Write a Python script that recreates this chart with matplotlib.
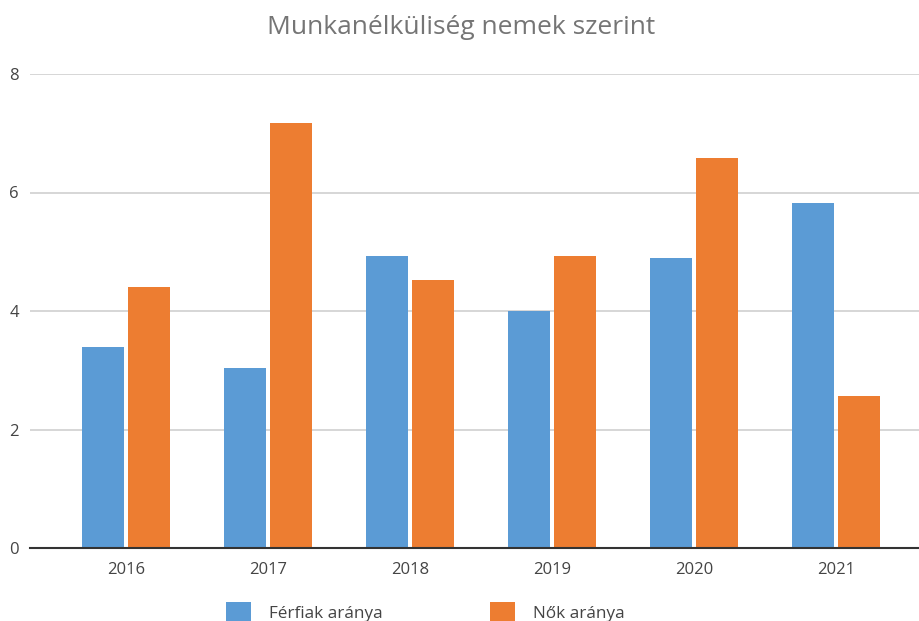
import matplotlib.pyplot as plt
import numpy as np

years = ["2016", "2017", "2018", "2019", "2020", "2021"]
ferfiak = [3.4, 3.03, 4.93, 4.0, 4.9, 5.82]
nok = [4.4, 7.17, 4.53, 4.93, 6.58, 2.57]
series_labels = ["Férfiak aránya", "Nők aránya"]
title = "Munkanélküliség nemek szerint"

plt.rcParams['font.family'] = ['Open Sans', 'DejaVu Sans']

blue = '#5b9bd5'
orange = '#ed7d31'

fig = plt.figure(figsize=(9.2, 6.21), dpi=100)
ax = fig.add_axes([30 / 920, 1 - 548 / 621, 1 - 30 / 920, (548 - 74) / 621])

x = np.arange(len(years))
w = 0.29
ax.bar(x - 0.162, ferfiak, width=w, color=blue, label=series_labels[0], zorder=3)
ax.bar(x + 0.162, nok, width=w, color=orange, label=series_labels[1], zorder=3)

ax.set_ylim(0, 8)
ax.set_xlim((30 - 126) / 142, (920 - 126) / 142)
ax.set_yticks([0, 2, 4, 6, 8])
ax.set_xticks(x)
ax.set_xticklabels(years)
ax.tick_params(axis='both', length=0, labelsize=12, colors='#444444')
ax.tick_params(axis='y', pad=8)
ax.tick_params(axis='x', pad=10)
ax.yaxis.grid(True, color='#d0d0d0', linewidth=1.2, zorder=0)
for s in ['top', 'right', 'left']:
    ax.spines[s].set_visible(False)
ax.spines['bottom'].set_color('#333333')
ax.spines['bottom'].set_linewidth(1.5)
ax.spines['bottom'].set_zorder(4)

fig.text(461 / 920, 1 - 27 / 621, title, ha='center', va='center',
         fontsize=19, color='#757575')

fig.legend(loc='center', bbox_to_anchor=(425 / 920, 1 - 612 / 621), ncol=2,
           frameon=False, fontsize=12.3, handlelength=1.45, handleheight=1.45,
           handletextpad=1.05, columnspacing=6.3, borderpad=0,
           labelcolor='#444444')

fig.savefig('out.png', dpi=100)
